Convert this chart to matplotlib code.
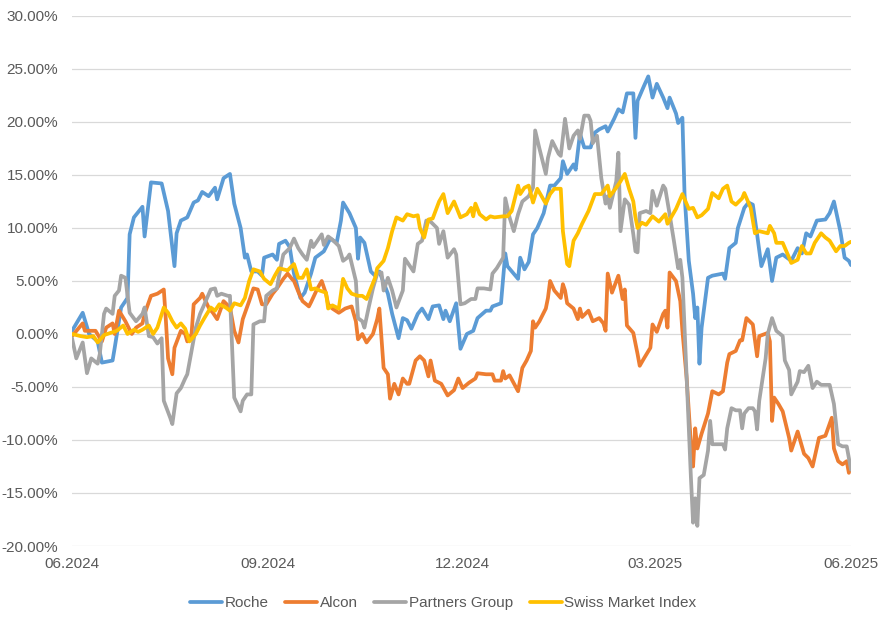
import pandas as pd
import matplotlib.pyplot as plt
import matplotlib.dates as mdates
from matplotlib.ticker import FuncFormatter

# performance since 01.06.2024, in percent; first value = days after start
roche = [(0,0.3),(5,2.0),(8,0.0),(12,-0.7),(14,-2.7),(19,-2.5),(20,-1.3),(23,2.5),(26,3.4),(27,9.4),(29,11.0),(33,12.0),(34,9.2),(37,14.3),(42,14.2),(45,11.6),(48,6.4),(49,9.5),(51,10.7),(54,11.0),(57,12.4),(59,12.6),(61,13.4),(64,13.0),(67,13.8),(68,12.7),(71,14.7),(74,15.1),(76,12.3),(79,10.0),(81,7.2),(82,7.5),(84,5.9),(87,5.9),(89,5.5),(90,7.2),(94,7.5),(96,7.0),(97,8.5),(100,8.8),(102,8.2),(103,6.9),(104,5.7),(107,3.4),(109,3.9),(112,5.7),(114,7.2),(118,7.8),(121,9.0),(124,8.6),(126,10.7),(127,12.4),(130,11.4),(133,10.0),(134,7.1),(135,9.1),(137,8.6),(140,5.9),(142,5.5),(144,5.9),(148,3.8),(150,1.9),(153,-0.4),(155,1.5),(157,1.3),(159,0.5),(162,1.9),(164,2.4),(167,1.4),(169,2.6),(172,2.7),(174,1.4),(175,2.2),(177,1.2),(180,2.9),(182,-1.4),(185,0.0),(188,0.3),(190,1.5),(194,2.2),(196,2.2),(197,2.6),(201,2.9),(203,7.6),(204,6.4),(209,5.2),(210,7.2),(212,6.1),(214,6.8),(216,9.4),(218,10.0),(221,11.4),(224,14.0),(226,14.0),(229,14.7),(230,16.3),(232,15.1),(235,16.0),(236,15.5),(238,18.9),(240,17.6),(243,17.6),(245,19.0),(247,19.3),(250,19.6),(251,19.1),(254,20.3),(256,21.2),(258,20.9),(260,22.7),(263,22.7),(264,18.5),(265,22.0),(268,23.4),(270,24.3),(272,22.3),(274,23.6),(277,22.3),(279,21.3),(280,22.3),(283,20.8),(284,19.9),(286,20.4),(287,13.2),(289,6.9),(291,3.8),(292,1.5),(293,2.5),(294,-2.8),(295,0.6),(298,5.3),(300,5.5),(305,5.7),(306,5.2),(308,8.1),(311,8.6),(312,10.0),(315,11.9),(317,12.4),(319,12.2),(321,9.4),(323,6.4),(326,8.0),(328,5.0),(330,7.2),(333,7.5),(337,6.9),(340,8.1),(342,7.6),(344,9.5),(346,9.2),(349,10.7),(353,10.8),(355,11.4),(357,12.5),(360,9.7),(362,7.2),(364,6.9),(365,6.5)]

alcon = [(0,-0.2),(5,1.0),(6,0.3),(11,0.3),(14,-0.7),(16,0.6),(19,1.0),(20,0.0),(22,2.2),(25,1.2),(28,0.0),(30,0.6),(33,1.0),(34,1.9),(37,3.6),(40,3.8),(43,4.2),(44,1.2),(45,-2.3),(47,-3.8),(48,-1.3),(51,0.3),(53,0.0),(54,-0.7),(56,0.0),(57,2.8),(60,3.4),(61,3.8),(64,2.5),(66,2.0),(68,1.4),(71,3.1),(74,2.5),(76,0.3),(78,-0.8),(80,1.4),(83,3.1),(85,4.3),(87,4.2),(89,2.8),(91,2.8),(94,3.8),(96,4.3),(99,5.2),(101,5.7),(103,5.2),(104,5.0),(106,4.0),(108,3.1),(111,2.6),(112,3.0),(115,4.3),(117,5.0),(119,3.8),(120,2.8),(122,2.4),(125,2.0),(128,2.4),(131,2.6),(133,1.2),(134,-0.5),(136,0.0),(138,-0.8),(141,0.0),(143,1.4),(144,2.4),(146,-3.2),(148,-3.8),(149,-6.1),(151,-4.7),(153,-5.7),(155,-4.2),(157,-4.7),(158,-4.7),(161,-2.5),(163,-2.1),(165,-2.5),(167,-4.0),(168,-2.5),(170,-4.4),(173,-4.7),(176,-5.8),(179,-5.3),(181,-4.2),(183,-5.1),(186,-4.6),(189,-4.2),(190,-3.7),(194,-3.8),(197,-3.8),(198,-4.4),(201,-4.4),(202,-3.5),(203,-4.2),(205,-3.9),(209,-5.4),(211,-3.2),(213,-2.5),(215,-1.6),(216,1.2),(217,0.6),(219,1.2),(222,2.4),(223,3.4),(224,5.0),(226,4.1),(229,3.4),(230,4.7),(231,4.1),(232,2.9),(235,2.4),(237,1.4),(238,2.4),(239,1.6),(242,2.2),(244,1.2),(247,1.5),(249,1.0),(250,0.3),(251,5.7),(253,3.9),(256,5.5),(258,3.3),(259,4.2),(260,0.8),(263,0.1),(265,-1.9),(266,-3.0),(268,-2.3),(271,-1.3),(272,0.9),(274,0.2),(277,1.9),(278,2.2),(279,0.6),(280,5.8),(283,5.0),(285,3.1),(286,0.3),(288,-4.2),(290,-10.4),(291,-12.5),(292,-8.9),(293,-10.8),(295,-9.4),(298,-7.5),(300,-5.4),(303,-5.7),(305,-5.4),(307,-2.7),(308,-1.9),(311,-1.6),(313,-0.6),(314,-0.6),(316,1.5),(319,0.9),(321,-2.1),(322,-0.2),(326,0.1),(327,-0.7),(328,-8.2),(329,-6.0),(331,-6.6),(333,-7.3),(336,-9.8),(337,-11.0),(340,-9.2),(343,-11.3),(345,-11.7),(347,-12.5),(350,-9.8),(353,-9.6),(356,-7.9),(357,-10.8),(359,-12.0),(361,-12.3),(363,-12.0),(364,-13.1),(365,-12.0)]

partners = [(0,-0.4),(2,-2.3),(5,-0.8),(7,-3.7),(9,-2.3),(12,-2.8),(13,-1.9),(15,1.9),(16,2.4),(19,1.9),(20,3.6),(22,4.1),(23,5.5),(25,5.3),(27,2.0),(30,1.2),(33,1.9),(34,2.5),(36,-0.2),(38,-0.3),(40,-0.9),(42,-0.4),(43,-6.3),(46,-7.9),(47,-8.5),(49,-5.6),(51,-5.1),(53,-4.2),(54,-3.8),(56,-1.6),(58,0.6),(60,1.9),(62,2.8),(65,4.2),(67,4.3),(68,3.6),(70,3.8),(73,3.6),(74,3.6),(75,-1.3),(76,-6.0),(79,-7.3),(80,-6.3),(82,-5.7),(84,-5.7),(85,0.9),(88,1.2),(90,1.2),(91,3.6),(94,4.1),(96,4.3),(97,5.5),(99,7.5),(101,7.9),(102,8.1),(104,9.0),(106,8.1),(108,7.5),(110,7.0),(112,8.8),(113,8.2),(117,9.4),(118,8.4),(120,9.2),(122,8.9),(125,8.3),(127,6.9),(129,7.2),(130,7.5),(133,5.0),(134,1.5),(136,1.2),(137,0.6),(139,2.5),(141,4.3),(143,5.7),(145,5.8),(146,4.1),(148,5.3),(150,4.1),(152,2.5),(155,4.1),(156,7.1),(157,6.8),(160,5.9),(162,8.5),(164,8.8),(166,10.7),(168,10.6),(171,10.0),(172,8.5),(174,9.7),(176,7.2),(179,8.0),(180,7.5),(182,2.8),(184,2.9),(187,3.3),(189,3.3),(190,4.3),(193,4.3),(196,4.2),(197,5.7),(199,6.2),(202,7.2),(203,12.8),(205,11.0),(207,9.7),(209,11.3),(211,12.5),(214,13.0),(216,13.8),(217,19.2),(219,17.5),(222,15.1),(223,16.6),(225,18.2),(228,17.0),(229,16.8),(231,20.3),(233,17.5),(235,18.7),(237,19.2),(238,18.4),(240,20.6),(242,20.6),(243,20.1),(244,18.0),(246,18.7),(248,14.7),(250,12.3),(251,13.0),(252,11.9),(255,14.4),(256,17.1),(257,9.7),(259,12.7),(261,12.2),(263,9.4),(264,7.8),(265,7.7),(266,11.4),(269,11.6),(271,11.4),(272,13.5),(274,12.1),(277,14.0),(278,13.7),(280,11.3),(282,8.8),(284,6.2),(285,7.0),(286,5.3),(287,0.6),(288,-4.2),(289,-8.9),(290,-13.6),(291,-17.8),(292,-15.5),(293,-18.1),(294,-13.6),(296,-13.3),(298,-11.0),(299,-8.2),(300,-10.4),(302,-10.4),(305,-10.4),(306,-10.9),(307,-8.9),(309,-7.0),(311,-7.2),(313,-7.2),(314,-8.9),(315,-7.5),(317,-7.0),(319,-7.0),(320,-7.3),(321,-9.0),(322,-6.3),(325,-2.3),(326,0.0),(328,1.5),(330,0.3),(333,-0.2),(334,-2.5),(336,-3.4),(337,-5.7),(340,-4.5),(341,-3.5),(343,-3.6),(345,-3.0),(347,-5.1),(349,-4.5),(351,-4.8),(355,-4.8),(357,-6.6),(359,-10.4),(361,-10.6),(363,-10.6),(365,-12.8)]

smi = [(0,0.0),(4,-0.2),(7,-0.3),(10,-0.2),(12,-0.8),(15,-0.1),(18,0.1),(21,0.3),(24,0.8),(26,0.0),(29,0.4),(31,0.2),(33,0.4),(36,0.8),(38,0.0),(40,0.6),(43,2.5),(45,2.0),(47,1.2),(49,0.6),(51,1.0),(53,0.5),(55,-0.7),(58,0.0),(60,0.8),(62,1.5),(65,2.5),(67,2.2),(69,2.8),(72,2.5),(74,2.2),(76,2.9),(79,2.7),(81,3.4),(83,5.0),(85,6.1),(88,5.9),(90,5.2),(93,4.7),(95,5.5),(97,6.2),(101,6.0),(102,6.2),(104,6.6),(106,5.3),(108,5.3),(110,6.1),(112,4.2),(114,4.3),(116,4.1),(119,3.9),(120,2.4),(122,2.7),(125,2.4),(127,5.2),(129,4.3),(131,3.8),(134,3.6),(136,3.6),(138,3.3),(140,4.3),(142,5.3),(143,6.2),(146,6.9),(148,8.1),(150,9.7),(152,11.0),(155,10.7),(157,11.3),(160,11.1),(162,11.2),(163,10.0),(165,9.1),(167,10.8),(169,10.9),(172,12.5),(174,13.2),(176,11.4),(179,12.5),(182,11.0),(185,11.3),(187,11.9),(188,11.1),(189,12.3),(191,11.3),(194,10.8),(196,11.1),(198,11.0),(202,11.1),(204,11.1),(206,11.6),(209,14.0),(210,13.2),(212,13.8),(214,14.0),(216,12.4),(218,13.7),(220,13.0),(222,12.3),(224,13.2),(226,13.7),(229,13.7),(230,9.7),(232,6.6),(233,6.4),(235,8.8),(237,9.5),(239,10.4),(242,11.6),(245,13.2),(248,13.2),(251,14.0),(252,13.0),(255,13.8),(257,14.4),(259,15.1),(261,13.7),(263,12.5),(264,11.0),(265,10.0),(267,10.5),(269,10.3),(272,11.1),(275,10.6),(278,11.3),(279,10.4),(283,11.8),(286,13.2),(289,11.8),(291,11.9),(293,11.0),(295,11.2),(298,11.8),(300,13.3),(303,12.8),(305,13.7),(307,14.0),(309,12.5),(311,12.2),(314,12.8),(315,13.3),(318,11.9),(320,9.5),(322,9.7),(326,9.5),(327,10.2),(329,9.5),(330,8.6),(333,8.6),(336,7.2),(337,6.7),(340,7.0),(342,8.3),(344,7.6),(346,7.6),(348,8.6),(351,9.5),(353,9.1),(355,8.8),(358,7.8),(360,8.3),(362,8.3),(364,8.6),(365,8.7)]

series_names = ['Roche', 'Alcon', 'Partners Group', 'Swiss Market Index']
series_data = [roche, alcon, partners, smi]
colors = ['#5B9BD5', '#ED7D31', '#A5A5A5', '#FFC000']
tick_dates = ['2024-06-01', '2024-09-01', '2024-12-01', '2025-03-01', '2025-06-01']
start = pd.Timestamp('2024-06-01')

plt.rcParams['font.family'] = ['Liberation Sans Narrow', 'Liberation Sans', 'DejaVu Sans']

fig = plt.figure(figsize=(8.86, 6.24), dpi=100)
ax = fig.add_axes([0.0813, 0.125, 0.8792, 0.8494])

for name, data, col in zip(series_names, series_data, colors):
    df = pd.DataFrame(data, columns=['day', 'val'])
    dates = start + pd.to_timedelta(df['day'], unit='D')
    ax.plot(dates, df['val'] / 100, color=col, lw=2.7, label=name,
            solid_joinstyle='round', solid_capstyle='round')

ax.set_ylim(-0.20, 0.30)
ax.set_yticks([i / 100 for i in range(-20, 31, 5)])
ax.yaxis.set_major_formatter(FuncFormatter(lambda v, p: f'{v * 100:.2f}%'))
ax.set_xlim(pd.Timestamp(tick_dates[0]), pd.Timestamp(tick_dates[-1]))
ax.set_xticks(pd.to_datetime(tick_dates))
ax.xaxis.set_major_formatter(mdates.DateFormatter('%m.%Y'))

ax.grid(axis='y', color='#d9d9d9', lw=0.9)
ax.set_axisbelow(True)
for s in ax.spines.values():
    s.set_visible(False)
ax.tick_params(length=0, labelsize=11, colors='#595959', pad=8)
ax.tick_params(axis='y', pad=10)

fig.legend(loc='lower center', ncol=4, frameon=False, bbox_to_anchor=(0.5, 0.0),
           fontsize=11, handlelength=2.1, handletextpad=0.15, columnspacing=1.1,
           labelcolor='#595959')

plt.savefig('out.png', dpi=100)
